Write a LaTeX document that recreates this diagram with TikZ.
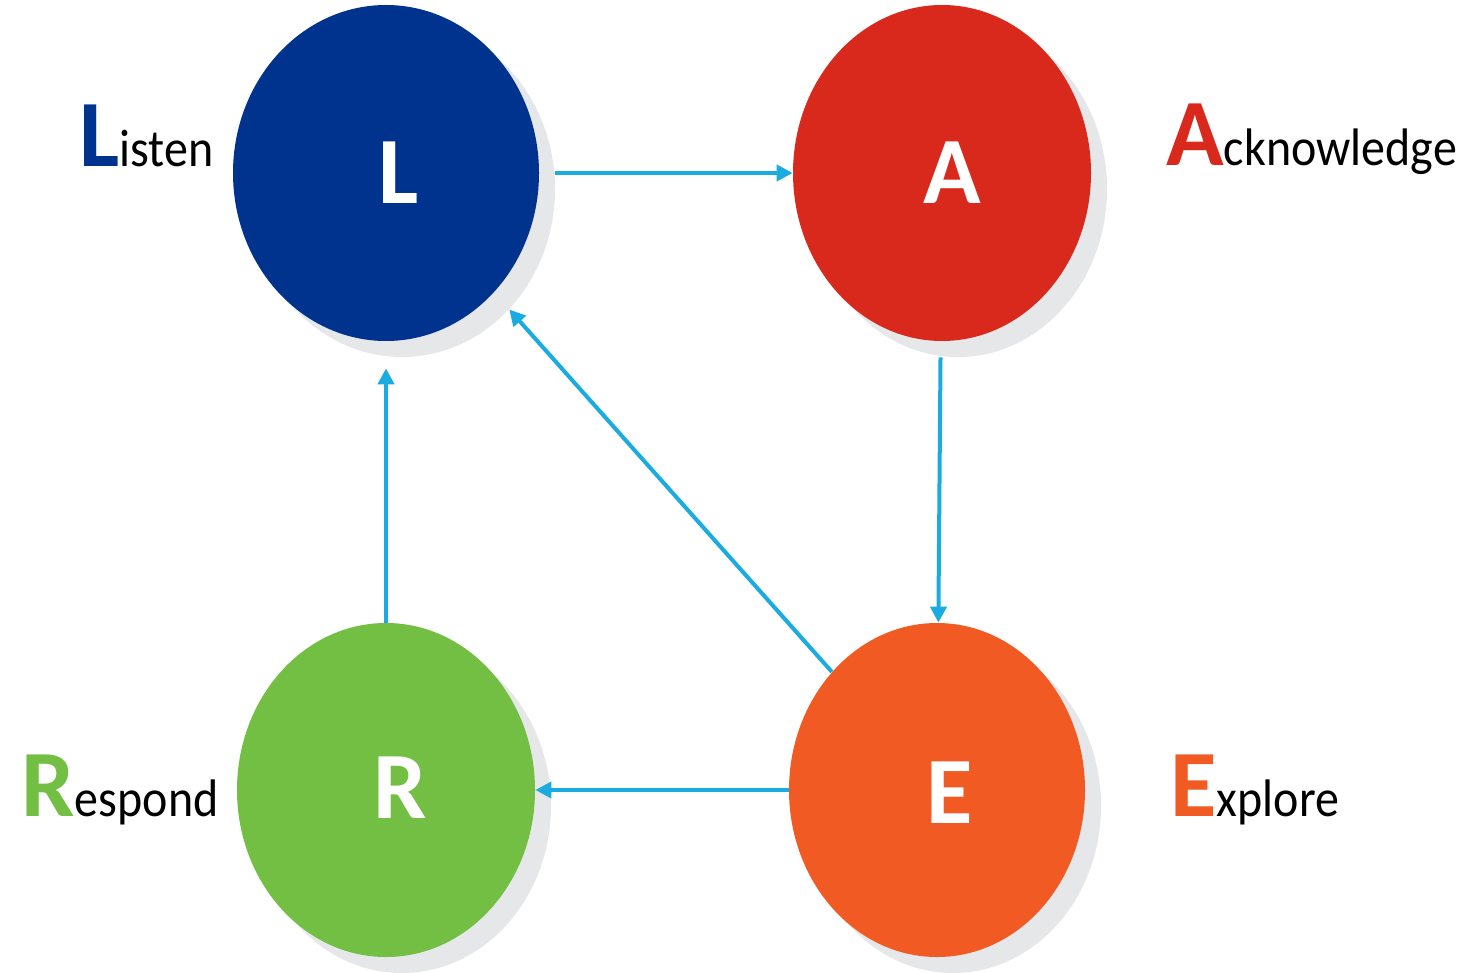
\documentclass[tikz,border=0pt]{standalone}
\usepackage{fontspec}
\setmainfont{Carlito}
\usetikzlibrary{shapes.geometric,arrows.meta}
\definecolor{lblue}{HTML}{00338D}
\definecolor{ared}{HTML}{D9291C}
\definecolor{rgreen}{HTML}{72BF44}
\definecolor{eorange}{HTML}{F15A22}
\definecolor{arrowblue}{HTML}{1AABE0}
\definecolor{shadowgray}{HTML}{E6E7E8}
\tikzset{
  blob/.style={ellipse, draw=none, inner sep=0pt, minimum width=#1},
  shade/.style={ellipse, draw=none, fill=shadowgray, inner sep=0pt},
  initial/.style={inner sep=0pt, text=white, font=\bfseries\fontsize{47.5}{50}\selectfont},
  caption/.style={inner sep=0pt, anchor=base west},
  arr/.style={draw=arrowblue, line width=2pt, -{Triangle[length=8pt, width=8pt]}},
}
\newcommand{\bigini}[2]{{\color{#1}\bfseries\fontsize{47.5}{50}\selectfont #2}}
\newcommand{\restword}[1]{\scalebox{1}[1.1]{\fontsize{24}{26}\selectfont #1}}
\begin{document}
\begin{tikzpicture}[x=0.5pt, y=-0.5pt]
\useasboundingbox (0,0) rectangle (1481,973);

% soft gray shadows, offset down and to the right
\node[shade, minimum width=306pt*0.5, minimum height=336pt*0.5] (Ls) at (402,189) {};
\node[shade, minimum width=298pt*0.5, minimum height=336pt*0.5] (As) at (958,189) {};
\node[shade, minimum width=298pt*0.5, minimum height=334pt*0.5] (Rs) at (402,806) {};
\node[shade, minimum width=296pt*0.5, minimum height=334pt*0.5] (Es) at (953,806) {};

% the four stages
\node[blob=153pt, minimum height=168pt, fill=lblue] (L) at (386,173) {};
\node[blob=149pt, minimum height=168pt, fill=ared] (A) at (942,173) {};
\node[blob=149pt, minimum height=167pt, fill=rgreen] (R) at (386,790) {};
\node[blob=148pt, minimum height=167pt, fill=eorange] (E) at (937,790) {};

% initials inside the ellipses
\node[initial] (Lt) at (399,173) {L};
\node[initial] (At) at (952,173) {A};
\node[initial] (Rt) at (400,788) {R};
\node[initial] (Et) at (950,793) {E};

% captions
\node[caption] (Lc) at (79,167) {\bigini{lblue}{L}\restword{isten}};
\node[caption] (Ac) at (1166,166) {\bigini{ared}{A}\restword{cknowledge}};
\node[caption] (Rc) at (21,816) {\bigini{rgreen}{R}\restword{espond}};
\node[caption] (Ec) at (1170,816) {\bigini{eorange}{E}\restword{xplore}};

% connectors
\draw[arr, shorten <=16pt*0.5] (L.east) -- (A.west);
\draw[arr, shorten <=16pt*0.5] (A) -- (E);
\draw[arr] (E) -- (Ls);
\draw[arr, shorten >=27pt*0.5] (R.north) -- (L.south);
\draw[arr] (E) -- (R);
\end{tikzpicture}
\end{document}
